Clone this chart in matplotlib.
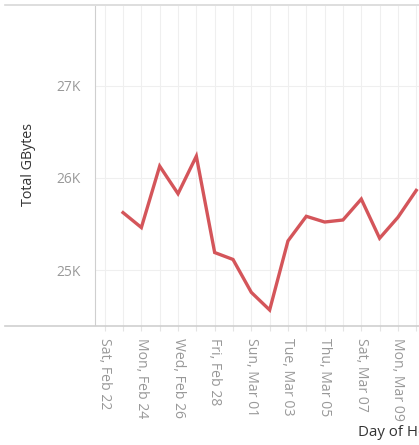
import matplotlib
matplotlib.use("Agg")
import matplotlib.pyplot as plt

# Data
day_labels = ["Sat, Feb 22", "Sun, Feb 23", "Mon, Feb 24", "Tue, Feb 25", "Wed, Feb 26",
              "Thu, Feb 27", "Fri, Feb 28", "Sat, Feb 29", "Sun, Mar 01", "Mon, Mar 02",
              "Tue, Mar 03", "Wed, Mar 04", "Thu, Mar 05", "Fri, Mar 06", "Sat, Mar 07",
              "Sun, Mar 08", "Mon, Mar 09", "Tue, Mar 10"]
point_days = list(range(1, 18))
total_gbytes = [25624, 25462, 26128, 25829, 26236, 25191, 25116, 24759, 24568,
                25317, 25584, 25522, 25544, 25771, 25346, 25573, 25865]
ytick_values = [25000, 26000, 27000]
ytick_labels = ["25K", "26K", "27K"]

plt.rcParams['font.family'] = ['Open Sans', 'DejaVu Sans']

fig = plt.figure(figsize=(4.19, 4.45), dpi=100)
ax = fig.add_axes([95/419, 1 - 325/445, 1 - 95/419, (325 - 6)/445])

ax.plot(point_days, total_gbytes, color="#d4555a", linewidth=2.4,
        solid_joinstyle="miter", clip_on=True, zorder=3)

ax.set_xlim(-0.53, 17.15)
ax.set_ylim(24405, 27865)

ax.set_xticks(range(len(day_labels)))
ax.set_xticklabels([lab if i % 2 == 0 else "" for i, lab in enumerate(day_labels)],
                   rotation=-90, fontsize=10.1, color="#999999", va="top", ha="center")
ax.set_yticks(ytick_values)
ax.set_yticklabels(ytick_labels, fontsize=10, color="#999999")

ax.grid(True, axis="both", color="#efefef", linewidth=0.8, zorder=0)
ax.tick_params(axis="x", length=4, color="#e4e4e4", pad=5)
ax.tick_params(axis="y", length=0, pad=10)

for s in ["top", "right"]:
    ax.spines[s].set_visible(False)
ax.spines["left"].set_color("#cfcfcf")
ax.spines["bottom"].set_visible(False)

# full-width horizontal border lines at top and bottom
fig.add_artist(plt.Line2D([5/419, 1], [1 - 5/445, 1 - 5/445], color="#d8d8d8", linewidth=1.2))
fig.add_artist(plt.Line2D([5/419, 1], [1 - 325.5/445, 1 - 325.5/445], color="#cfcfcf", linewidth=1.2))

fig.text(28/419, 1 - 165/445, "Total GBytes", rotation=90, fontsize=10.3,
         color="#333333", ha="center", va="center")
fig.text(358/419, 1 - 433/445, "Day of Hour", fontsize=10.8, color="#333333",
         ha="left", va="center")

fig.savefig("out.png", dpi=100)
